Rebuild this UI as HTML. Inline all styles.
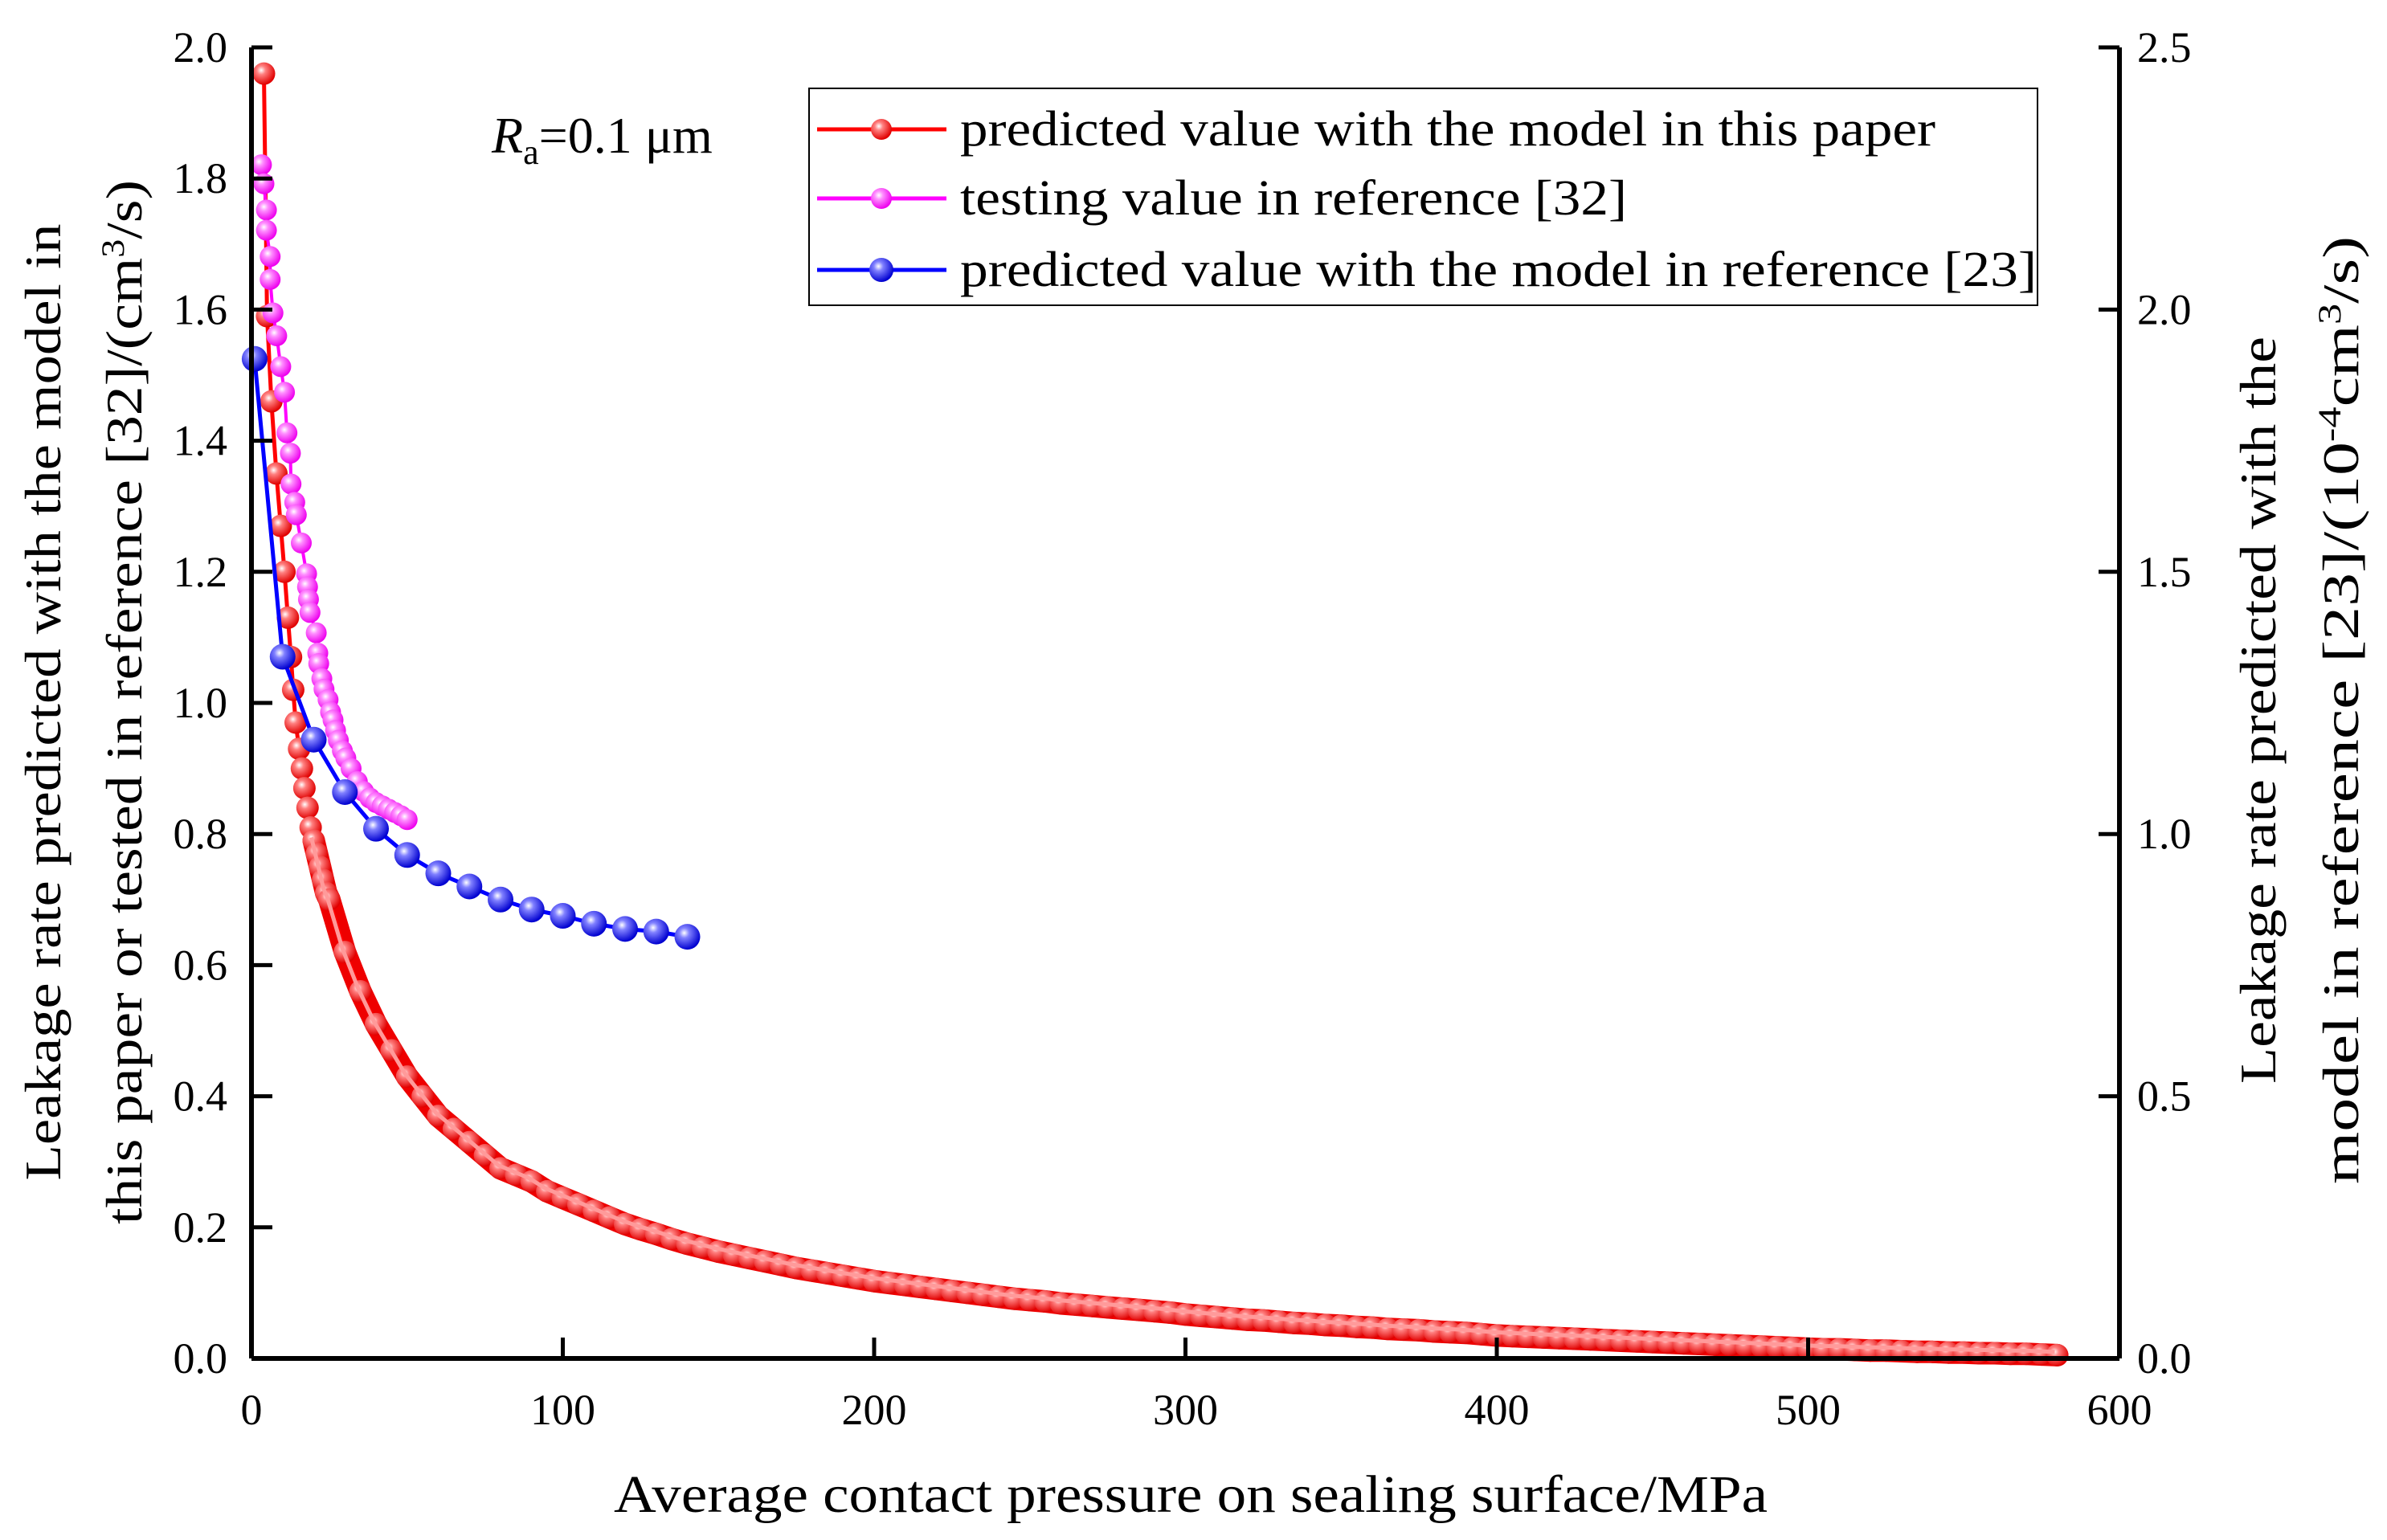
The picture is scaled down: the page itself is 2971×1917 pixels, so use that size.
<!DOCTYPE html>
<html><head><meta charset="utf-8"><style>
html,body{margin:0;padding:0;background:#fff}
svg{display:block}
text{font-family:"Liberation Serif","Times New Roman",Times,serif;fill:#000}
</style></head><body>
<svg id="chart" width="2971" height="1917" viewBox="0 0 2971 1917" xmlns="http://www.w3.org/2000/svg" font-family="Liberation Serif, Times New Roman, serif">
<defs>
<radialGradient id="gRed" cx="0.38" cy="0.35" r="0.65"><stop offset="0" stop-color="#fff"/><stop offset="0.3" stop-color="#ff8080"/><stop offset="1" stop-color="#e00000"/></radialGradient>
<radialGradient id="gMag" cx="0.38" cy="0.35" r="0.65"><stop offset="0" stop-color="#fff"/><stop offset="0.3" stop-color="#ff90ff"/><stop offset="1" stop-color="#ee00ee"/></radialGradient>
<radialGradient id="gBlue" cx="0.38" cy="0.35" r="0.65"><stop offset="0" stop-color="#fff"/><stop offset="0.3" stop-color="#8080ff"/><stop offset="1" stop-color="#0000d0"/></radialGradient>
</defs>
<g id="plot"></g>
<g id="axes"></g>
<text x="612" y="190" font-size="64"><tspan font-style="italic">R</tspan><tspan font-size="44" dy="14">a</tspan><tspan dy="-14">=0.1 μm</tspan></text>
<g>
<rect x="1007" y="110" width="1529" height="270" fill="#fff" stroke="#000" stroke-width="2"/>
<g id="legendItems"></g>
</g>
<text x="764" y="1882" font-size="66" textLength="1436" lengthAdjust="spacingAndGlyphs">Average contact pressure on sealing surface/MPa</text>
<g>
<text transform="translate(75,874) rotate(-90)" text-anchor="middle" font-size="64" textLength="1191" lengthAdjust="spacingAndGlyphs">Leakage rate predicted with the model in</text>
<text transform="translate(176,874) rotate(-90)" text-anchor="middle" font-size="64" textLength="1300" lengthAdjust="spacingAndGlyphs">this paper or tested in reference [32]/(cm<tspan dy="-22" font-size="40">3</tspan><tspan dy="22">/s)</tspan></text>
</g>
<g>
<text transform="translate(2832,884) rotate(-90)" text-anchor="middle" font-size="64" textLength="930" lengthAdjust="spacingAndGlyphs">Leakage rate predicted with the</text>
<text transform="translate(2935,884) rotate(-90)" text-anchor="middle" font-size="64" textLength="1180" lengthAdjust="spacingAndGlyphs">model in reference [23]/(10<tspan dy="-22" font-size="40">-4</tspan><tspan dy="22">cm</tspan><tspan dy="-22" font-size="40">3</tspan><tspan dy="22">/s)</tspan></text>
</g>
</svg>
<script>
const xTicks=[0,100,200,300,400,500,600];
const yLeftTicks=[0.0,0.2,0.4,0.6,0.8,1.0,1.2,1.4,1.6,1.8,2.0];
const yRightTicks=[0.0,0.5,1.0,1.5,2.0,2.5];
const redX=[4,5,6.4,8,9.4,10.6,11.7,12.7,13.4,14.2,15.3,16.2,17,18,19,20,21,22,23,24,25,30,35,40,45,50,55,60,65,70,75,80,85,90,95,100,105,110,115,120,125,130,135,140,145,150,155,160,165,170,175,180,185,190,195,200,205,210,215,220,225,230,235,240,245,250,255,260,265,270,275,280,285,290,295,300,305,310,315,320,325,330,335,340,345,350,355,360,365,370,375,380,385,390,395,400,405,410,415,420,425,430,435,440,445,450,455,460,465,470,475,480,485,490,495,500,505,510,515,520,525,530,535,540,545,550,555,560,565,570,575,580];
const redY=[1.96,1.59,1.46,1.35,1.27,1.20,1.13,1.07,1.02,0.97,0.93,0.90,0.87,0.84,0.81,0.79,0.77,0.75,0.73,0.71,0.70,0.62,0.56,0.51,0.47,0.43,0.40,0.37,0.35,0.33,0.31,0.29,0.28,0.27,0.255,0.245,0.235,0.225,0.215,0.205,0.197,0.19,0.182,0.175,0.169,0.163,0.158,0.153,0.148,0.143,0.138,0.134,0.130,0.126,0.122,0.118,0.115,0.112,0.109,0.106,0.103,0.100,0.097,0.094,0.091,0.089,0.087,0.084,0.082,0.080,0.078,0.076,0.074,0.072,0.070,0.067,0.065,0.063,0.061,0.059,0.058,0.056,0.054,0.053,0.051,0.050,0.048,0.047,0.045,0.044,0.043,0.041,0.040,0.039,0.037,0.035,0.034,0.033,0.032,0.031,0.030,0.029,0.028,0.027,0.026,0.025,0.024,0.023,0.022,0.021,0.020,0.019,0.018,0.017,0.016,0.015,0.014,0.014,0.013,0.012,0.012,0.011,0.010,0.010,0.009,0.009,0.008,0.008,0.007,0.007,0.006,0.005];
const magX=[3.2,4.0,4.8,4.8,6.0,6.0,6.9,8.1,9.4,10.6,11.4,12.5,12.7,13.9,14.4,16.0,17.7,18.0,18.3,18.8,20.8,21.3,21.6,22.6,23.3,24.6,25.4,26.2,27.0,27.9,29.2,30.3,32,34,36,38,40,42,44,46,48,50];
const magY=[1.821,1.792,1.752,1.721,1.681,1.646,1.595,1.560,1.513,1.474,1.412,1.381,1.334,1.306,1.287,1.244,1.197,1.177,1.158,1.138,1.107,1.076,1.060,1.037,1.021,1.005,0.986,0.974,0.958,0.943,0.927,0.916,0.90,0.88,0.865,0.855,0.848,0.843,0.838,0.833,0.828,0.822];
const blueX=[1,10,20,30,40,50,60,70,80,90,100,110,120,130,140];
const blueY=[1.906,1.338,1.18,1.08,1.01,0.96,0.925,0.90,0.875,0.856,0.844,0.829,0.819,0.814,0.804];

const NS="http://www.w3.org/2000/svg";
const X0=313,X1=2638,Y0=1691,Ytop=59;
const sx=v=>X0+(v-0)/600*(X1-X0);
const syL=v=>Y0-(v/2.0)*(Y0-Ytop);
const syR=v=>Y0-(v/2.5)*(Y0-Ytop);
function mk(tag,attrs,parent){const e=document.createElementNS(NS,tag);for(const k in attrs)e.setAttribute(k,attrs[k]);parent.appendChild(e);return e;}
const plot=document.getElementById('plot'),axes=document.getElementById('axes');

function series(xs,ys,sy,color,grad,r,lw,name,bandFrom){
  const g=mk('g',{},plot);
  
  
  const pts=xs.map((x,i)=>sx(x).toFixed(1)+','+sy(ys[i]).toFixed(1)).join(' ');
  let bpts=null;
  if(bandFrom!==null){
    bpts=xs.map((x,i)=>x>=bandFrom?sx(x).toFixed(1)+','+sy(ys[i]).toFixed(1):null).filter(p=>p).join(' ');
    const b=mk('polyline',{points:bpts,fill:'none',stroke:'#ee0000','stroke-width':r*2,'stroke-linejoin':'round','stroke-linecap':'round'},g);
    
    
  }
  const pl=mk('polyline',{points:pts,fill:'none',stroke:color,'stroke-width':lw},g);
  
  
  xs.forEach((x,i)=>{
    const c=mk('circle',{cx:sx(x),cy:sy(ys[i]),r:r,fill:'url(#'+grad+')'},g);
    
    
  });
  if(bpts){
    const h=mk('polyline',{points:bpts,fill:'none',stroke:'#ff9a9a','stroke-width':5,transform:'translate(-3,-4)'},g);
    
    
  }
}
series(redX,redY,syL,'#ff0000','gRed',14,5,'red-predicted',20);
series(magX,magY,syL,'#ff00ff','gMag',13,4,'magenta-testing',null);
series(blueX,blueY,syR,'#0000ff','gBlue',16,5,'blue-reference',null);

[[X0,Ytop,X0,Y0],[X0,Y0,X1,Y0],[X1,Ytop,X1,Y0]].forEach((l,i)=>{
  const e=mk('line',{x1:l[0],y1:l[1],x2:l[2],y2:l[3],stroke:'#000','stroke-width':6},axes);
  
  
});
xTicks.forEach(v=>{
  const t=mk('line',{x1:sx(v),y1:Y0,x2:sx(v),y2:Y0-26,stroke:'#000','stroke-width':5},axes);
  
  
  const l=mk('text',{x:sx(v),y:1773,'text-anchor':'middle','font-size':54},axes);
  l.textContent=v;
  
  
});
yLeftTicks.forEach(v=>{
  const t=mk('line',{x1:X0,y1:syL(v),x2:X0+26,y2:syL(v),stroke:'#000','stroke-width':5},axes);
  
  
  const l=mk('text',{x:283,y:syL(v)+18,'text-anchor':'end','font-size':54},axes);
  l.textContent=v.toFixed(1);
  
  
});
yRightTicks.forEach(v=>{
  const t=mk('line',{x1:X1,y1:syR(v),x2:X1-26,y2:syR(v),stroke:'#000','stroke-width':5},axes);
  
  
  const l=mk('text',{x:2660,y:syR(v)+18,'font-size':54},axes);
  l.textContent=v.toFixed(1);
  
  
});
const leg=document.getElementById('legendItems');
const legLabels=['predicted value with the model in this paper','testing value in reference [32]','predicted value with the model in reference [23]'];
const legColors=['#ff0000','#ff00ff','#0000ff'];
const legGrads=['gRed','gMag','gBlue'];
const legWidths=[1214,830,1340];
[161,247,336].forEach((y,i)=>{
  const g=mk('g',{},leg);
  
  
  mk('line',{x1:1017,y1:y,x2:1178,y2:y,stroke:legColors[i],'stroke-width':5},g);
  mk('circle',{cx:1097,cy:y,r:i==2?15:13,fill:'url(#'+legGrads[i]+')'},g);
  const t=mk('text',{x:1195,y:y+20,'font-size':62,textLength:legWidths[i],lengthAdjust:'spacingAndGlyphs'},g);
  t.textContent=legLabels[i];
});
</script>
</body></html>
